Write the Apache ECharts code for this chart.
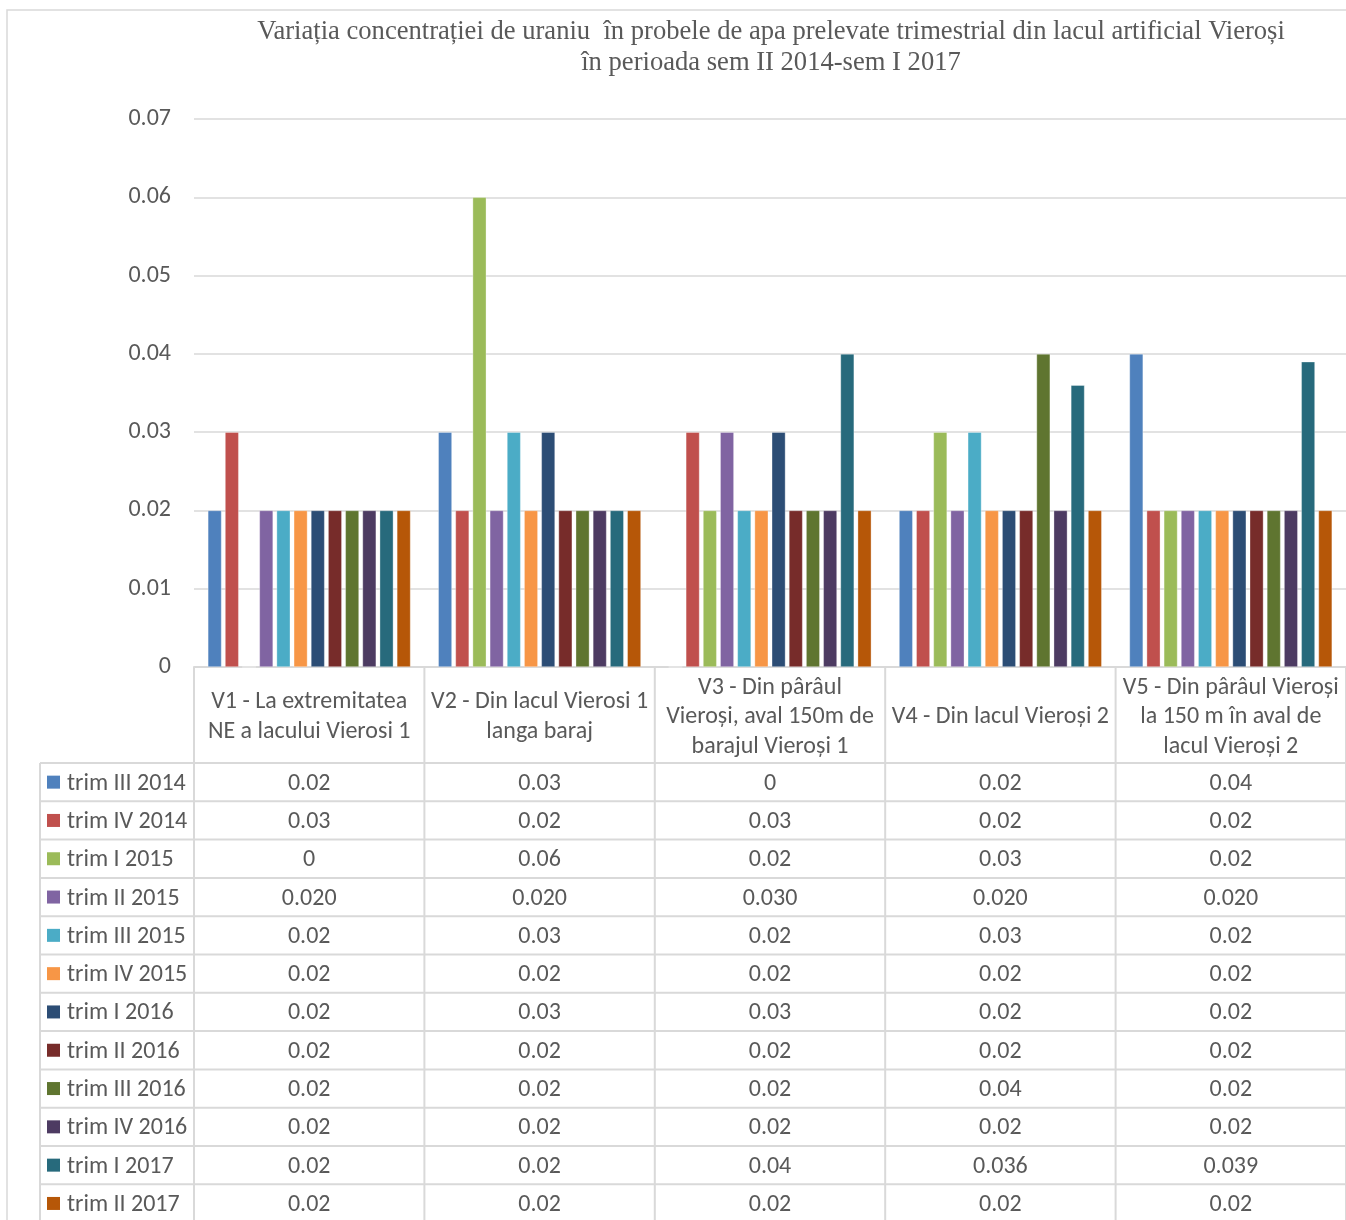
<!DOCTYPE html>
<html>
<head>
<meta charset="utf-8">
<title>Uraniu - lacul Vieroși</title>
<script src="https://cdn.jsdelivr.net/npm/echarts@6/dist/echarts.min.js"></script>
<style>
  html, body { margin: 0; padding: 0; background: #fff; }
  #chart { width: 1346px; height: 1220px; }
</style>
</head>
<body>
<div id="chart"></div>
<script>
// Sampling points (category axis, wrapped as in the header row of the data table)
const categories = [
  'V1 - La extremitatea\nNE a lacului Vierosi 1',
  'V2 - Din lacul Vierosi 1\nlanga baraj',
  'V3 - Din pârâul\nVieroși, aval 150m de\nbarajul Vieroși 1',
  'V4 - Din lacul Vieroși 2',
  'V5 - Din pârâul Vieroși\nla 150 m în aval de\nlacul Vieroși 2'
];

// Quarterly sampling campaigns (one bar series each)
const seriesNames = [
  'trim III 2014', 'trim IV 2014', 'trim I 2015', 'trim II 2015',
  'trim III 2015', 'trim IV 2015', 'trim I 2016', 'trim II 2016',
  'trim III 2016', 'trim IV 2016', 'trim I 2017', 'trim II 2017'
];

// Uranium concentration per campaign, V1..V5
const trimIII2014 = [0.02, 0.03, 0, 0.02, 0.04];
const trimIV2014  = [0.03, 0.02, 0.03, 0.02, 0.02];
const trimI2015   = [0, 0.06, 0.02, 0.03, 0.02];
const trimII2015  = [0.02, 0.02, 0.03, 0.02, 0.02];
const trimIII2015 = [0.02, 0.03, 0.02, 0.03, 0.02];
const trimIV2015  = [0.02, 0.02, 0.02, 0.02, 0.02];
const trimI2016   = [0.02, 0.03, 0.03, 0.02, 0.02];
const trimII2016  = [0.02, 0.02, 0.02, 0.02, 0.02];
const trimIII2016 = [0.02, 0.02, 0.02, 0.04, 0.02];
const trimIV2016  = [0.02, 0.02, 0.02, 0.02, 0.02];
const trimI2017   = [0.02, 0.02, 0.04, 0.036, 0.039];
const trimII2017  = [0.02, 0.02, 0.02, 0.02, 0.02];

const seriesValues = [
  trimIII2014, trimIV2014, trimI2015, trimII2015, trimIII2015, trimIV2015,
  trimI2016, trimII2016, trimIII2016, trimIV2016, trimI2017, trimII2017
];

// Rows of the data table shown with a fixed number of decimals (null = general format)
const fixedDecimals = [null, null, null, 3, null, null, null, null, null, null, null, null];

// Value axis ticks
const yMin = 0, yMax = 0.07, yStep = 0.01;

const palette = [
  '#4F81BD', '#C0504D', '#9BBB59', '#8064A2', '#4BACC6', '#F79646',
  '#2C4D75', '#772C2A', '#5F7530', '#4D3B62', '#276A7C', '#B65708'
];

const FONT = 'Carlito, Lato, "Open Sans", sans-serif';
const FS = 24;
const TEXT = '#595959';
const LINE = '#d9d9d9';

const chart = echarts.init(document.getElementById('chart'), null, { renderer: 'canvas' });

const option = {
  animation: false,
  color: palette,
  grid: { left: 194, right: 0, top: 119, bottom: 553 },
  xAxis: {
    type: 'category',
    data: categories,
    axisLine: { show: true, lineStyle: { color: LINE, width: 2 } },
    axisTick: { show: false },
    axisLabel: {
      interval: 0, margin: 50, verticalAlign: 'middle', align: 'center',
      lineHeight: 29.5, fontSize: FS, color: TEXT, fontFamily: FONT
    },
    splitLine: { show: false }
  },
  yAxis: {
    type: 'value',
    min: yMin, max: yMax, interval: yStep,
    axisLine: { show: false },
    axisTick: { show: false },
    axisLabel: { margin: 23, fontSize: FS, color: TEXT, fontFamily: FONT, padding: [4, 0, 0, 0] },
    splitLine: { lineStyle: { color: LINE, width: 1.5 } }
  },
  series: seriesNames.map((name, i) => ({
    name: name,
    type: 'bar',
    data: seriesValues[i],
    barGap: '25%',
    barCategoryGap: '12%',
    itemStyle: { color: palette[i], borderColor: 'rgba(255,255,255,0.55)', borderWidth: 0.6 }
  }))
};

chart.setOption(option);

// Data table under the plot: header row = axis labels, one row per campaign
function buildTable() {
  const els = [];
  const W = 1400;
  const yAxisPx = chart.convertToPixel({ yAxisIndex: 0 }, 0);
  const c0 = chart.convertToPixel({ xAxisIndex: 0 }, 0);
  const c1 = chart.convertToPixel({ xAxisIndex: 0 }, 1);
  const band = c1 - c0;
  const headerH = 96;
  const rowH = 38.3;
  const tableTop = yAxisPx + headerH;
  const legendLeft = 40;
  const bottom = 1240;

  // outer chart frame
  els.push({ type: 'rect', shape: { x: 7, y: 10, width: 1400, height: 1300 },
    style: { fill: 'none', stroke: LINE, lineWidth: 1.5 }, silent: true });

  // title
  els.push({ type: 'text', x: 771, y: 17,
    style: {
      text: 'Variația concentrației de uraniu  în probele de apa prelevate trimestrial din lacul artificial Vieroși\nîn perioada sem II 2014-sem I 2017',
      align: 'center', verticalAlign: 'top', fontFamily: '"Liberation Serif", "Times New Roman", serif',
      fontSize: 26.6, lineHeight: 31, fill: TEXT
    } });

  // vertical column lines
  for (let k = 0; k <= categories.length; k++) {
    const x = c0 - band / 2 + k * band;
    els.push({ type: 'line', shape: { x1: x, y1: yAxisPx, x2: x, y2: bottom },
      style: { stroke: LINE, lineWidth: 2 }, silent: true });
  }
  els.push({ type: 'line', shape: { x1: legendLeft, y1: tableTop, x2: legendLeft, y2: bottom },
    style: { stroke: LINE, lineWidth: 2 }, silent: true });

  // horizontal row lines
  for (let r = 0; r <= seriesNames.length; r++) {
    const y = tableTop + r * rowH;
    els.push({ type: 'line', shape: { x1: legendLeft, y1: y, x2: W, y2: y },
      style: { stroke: LINE, lineWidth: 2 }, silent: true });
  }

  // legend keys, names and cell values
  seriesNames.forEach((name, r) => {
    const cy = tableTop + r * rowH + rowH / 2;
    const ty = cy + 1.5;
    els.push({ type: 'rect', shape: { x: 47, y: cy - 6.5, width: 13, height: 13 },
      style: { fill: palette[r] }, silent: true });
    els.push({ type: 'text', x: 67, y: ty,
      style: { text: name, align: 'left', verticalAlign: 'middle', fontFamily: FONT, fontSize: FS, fill: TEXT },
      silent: true });
    seriesValues[r].forEach((v, k) => {
      const cx = chart.convertToPixel({ xAxisIndex: 0 }, k);
      const txt = fixedDecimals[r] == null ? String(v) : v.toFixed(fixedDecimals[r]);
      els.push({ type: 'text', x: cx, y: ty,
        style: { text: txt, align: 'center', verticalAlign: 'middle', fontFamily: FONT, fontSize: FS, fill: TEXT },
        silent: true });
    });
  });
  return els;
}

chart.setOption({ graphic: { elements: buildTable() } });
</script>
</body>
</html>
